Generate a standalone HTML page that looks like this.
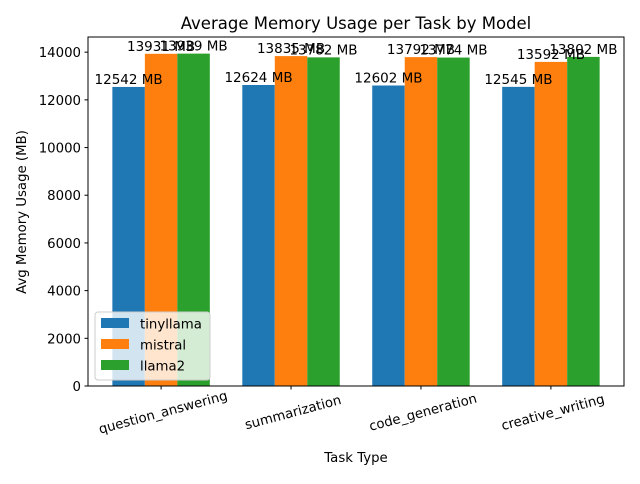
<!DOCTYPE html>
<html><head><meta charset="utf-8"><style>
body{margin:0;background:#fff;font-family:"DejaVu Sans","Liberation Sans",sans-serif}
</style></head><body>
<svg id="chart" width="640" height="480" xmlns="http://www.w3.org/2000/svg" font-family="DejaVu Sans, Liberation Sans, sans-serif">
<rect width="640" height="480" fill="#fff"/>
<text x="356" y="29" font-size="16.5" text-anchor="middle">Average Memory Usage per Task by Model</text>
<text transform="translate(26,212) rotate(-90)" font-size="13.3" text-anchor="middle">Avg Memory Usage (MB)</text>
<text x="356" y="462" font-size="13.3" text-anchor="middle">Task Type</text>
<g id="marks"></g>
<rect x="88" y="37" width="536" height="349" fill="none" stroke="#000" stroke-width="1"/>
<g id="legend"></g>
</svg>
<script>
const categories=["question_answering","summarization","code_generation","creative_writing"];
const seriesNames=["tinyllama","mistral","llama2"];
const tinyllama=[12542,12624,12602,12545];
const mistral=[13931,13835,13792,13592];
const llama2=[13939,13782,13774,13802];
const yTicks=[0,2000,4000,6000,8000,10000,12000,14000];
const colors=["#1f77b4","#ff7f0e","#2ca02c"];
const NS="http://www.w3.org/2000/svg";
const L=88,R=624,T=37,B=386;
const yMax=Math.max(...tinyllama,...mistral,...llama2)*1.05;
const y=v=>B-(v/yMax)*(B-T);
const xmin=-0.5625,xmax=categories.length-1+0.5625;
const x=v=>L+(v-xmin)/(xmax-xmin)*(R-L);
const bw=0.25;
const g=document.getElementById('marks');
function el(t,a,p){const e=document.createElementNS(NS,t);for(const k in a)e.setAttribute(k,a[k]);(p||g).appendChild(e);return e;}
yTicks.forEach(t=>{
  const yy=y(t);
  const l=el('line',{x1:L-3.5,x2:L,y1:yy,y2:yy,stroke:'#000'});
  
  
  const tx=el('text',{x:L-7,y:yy+5,'font-size':13.3,'text-anchor':'end'});
  tx.textContent=t;
  
  
});
const all=[tinyllama,mistral,llama2];
const labels=[];
all.forEach((s,si)=>{
  s.forEach((v,ci)=>{
    const cx=ci+(si-1)*bw;
    const x0=x(cx-bw/2),x1=x(cx+bw/2);
    const r=el('rect',{x:x0,y:y(v),width:x1-x0,height:B-y(v),fill:colors[si]});
    
    
    labels.push([x(cx),y(v)-3,v]);
  });
});
labels.forEach(([lx,ly,v])=>{
  const t=el('text',{x:lx,y:ly,'font-size':13.5,'text-anchor':'middle'});
  t.textContent=v+' MB';
  
  
});
categories.forEach((c,i)=>{
  const xx=x(i);
  const l=el('line',{x1:xx,x2:xx,y1:B,y2:B+3.5,stroke:'#000'});
  
  
  const t=el('text',{transform:`translate(${xx},${B+19}) rotate(-15)`,'font-size':13.3,'text-anchor':'middle',dy:'0.9em'});
  t.textContent=c;
  
  
});
const lg=document.getElementById('legend');
el('rect',{x:95,y:312,width:115,height:68,rx:3,fill:'#fff','fill-opacity':0.8,stroke:'#ccc'},lg);
seriesNames.forEach((n,i)=>{
  const yy=318+i*21;
  const r=el('rect',{x:101,y:yy,width:28,height:10,fill:colors[i]},lg);
  
  
  const t=el('text',{x:140,y:yy+10.5,'font-size':13.3},lg);
  t.textContent=n;
  
  
});
</script>
</body></html>
